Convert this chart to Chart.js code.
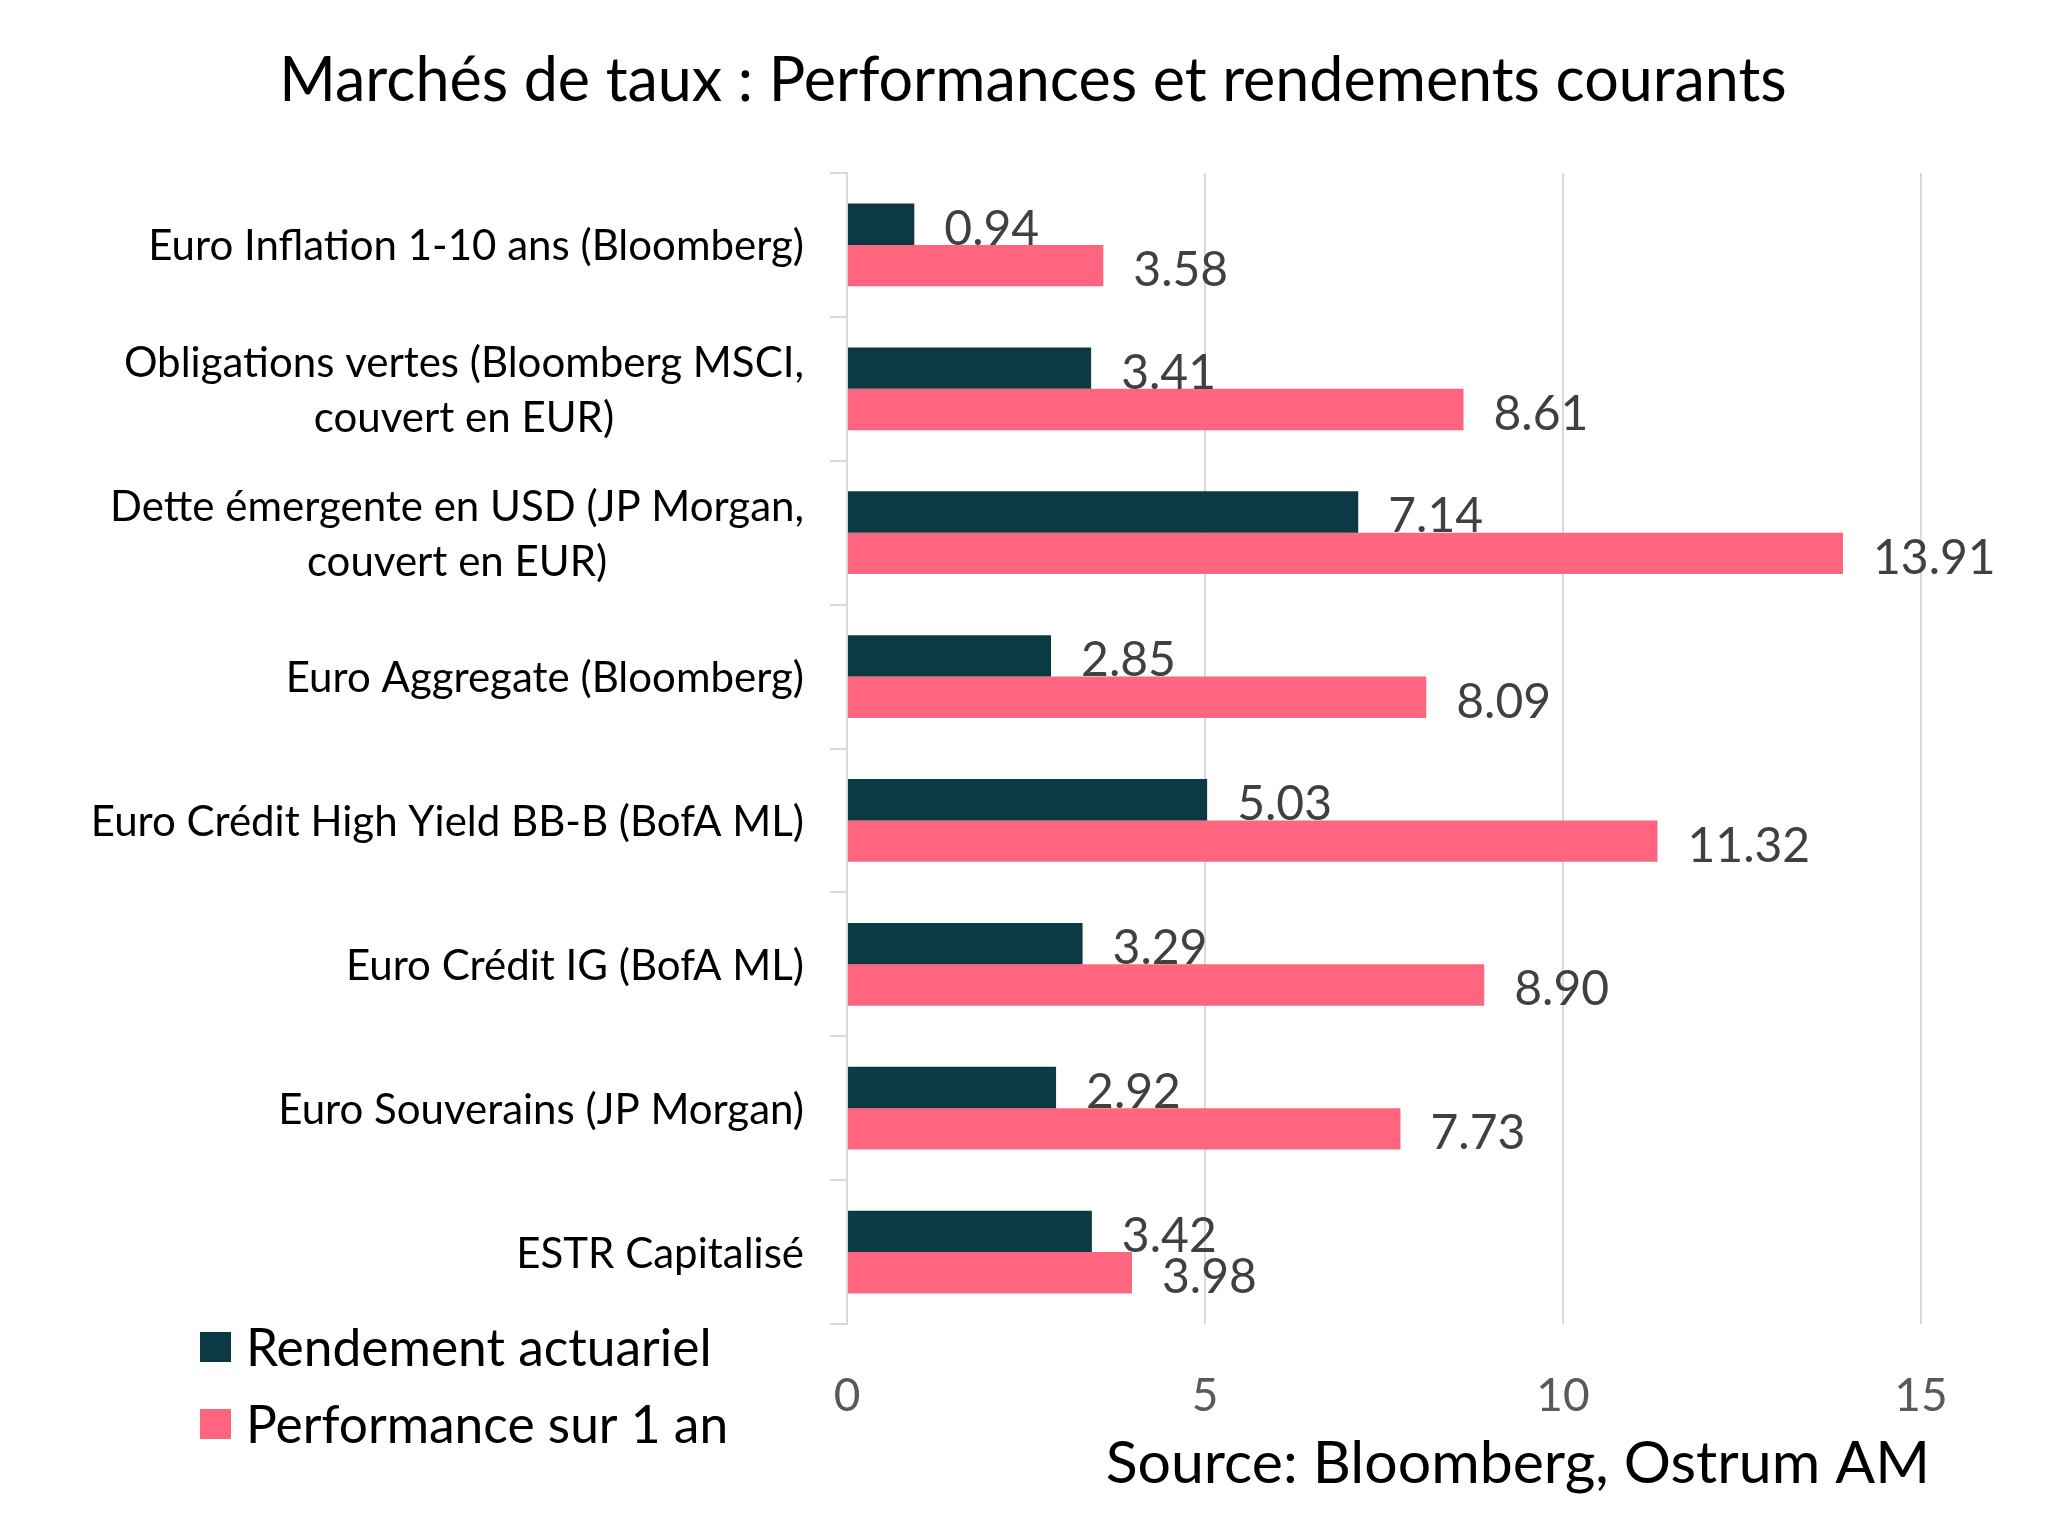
<!DOCTYPE html>
<html><head><meta charset="utf-8">
<script src="https://cdn.jsdelivr.net/npm/chart.js@4/dist/chart.umd.min.js"></script>
<style>html,body{margin:0;padding:0;background:#fff;} #wrap{position:relative;width:2066px;height:1515px;}</style>
</head><body><div id="wrap"><canvas id="c" width="2066" height="1515"></canvas></div>
<script>
const titleText = 'Marchés de taux : Performances et rendements courants';
const sourceText = 'Source: Bloomberg, Ostrum AM';
const categories = [
  'Euro Inflation 1-10 ans (Bloomberg)',
  ['Obligations vertes (Bloomberg MSCI,', 'couvert en EUR)'],
  ['Dette émergente en USD (JP Morgan,', 'couvert en EUR)'],
  'Euro Aggregate (Bloomberg)',
  'Euro Crédit High Yield BB-B (BofA ML)',
  'Euro Crédit IG (BofA ML)',
  'Euro Souverains (JP Morgan)',
  'ESTR Capitalisé'
];
const seriesNames = ['Rendement actuariel', 'Performance sur 1 an'];
const rendementActuariel = [0.94, 3.41, 7.14, 2.85, 5.03, 3.29, 2.92, 3.42];
const performance1an = [3.58, 8.61, 13.91, 8.09, 11.32, 8.90, 7.73, 3.98];
const xTickValues = [0, 5, 10, 15];
const seriesColors = ['#0b3a44', '#ff657e'];

const FONT = 'Lato';

const customText = {
  id: 'customText',
  afterDraw(chart) {
    const ctx = chart.ctx;
    const ys = chart.scales.y;
    ctx.save();
    // category labels: block right-aligned, lines centred within block
    ctx.font = '42px ' + FONT;
    ctx.fillStyle = '#000';
    ctx.textBaseline = 'middle';
    ctx.textAlign = 'center';
    const right = ys.right - 17 - 26;
    categories.forEach((lab, i) => {
      const lines = Array.isArray(lab) ? lab : [lab];
      const y = ys.getPixelForValue(i);
      const w = Math.max(...lines.map(l => ctx.measureText(l).width));
      const cx = right - w / 2;
      const lh = 55;
      lines.forEach((l, j) => {
        ctx.fillText(l, cx, y + (j - (lines.length - 1) / 2) * lh + 2);
      });
    });
    // legend
    ctx.font = '51.5px ' + FONT;
    ctx.textAlign = 'left';
    const legY = [1347, 1424];
    seriesNames.forEach((n, i) => {
      ctx.fillStyle = seriesColors[i];
      ctx.fillRect(200, legY[i] - 15, 31, 30);
      ctx.fillStyle = '#000';
      ctx.fillText(n, 246, legY[i] + 2);
    });
    // source
    ctx.font = '59px ' + FONT;
    ctx.textAlign = 'right';
    ctx.textBaseline = 'alphabetic';
    ctx.fillText(sourceText, 1930, 1483);
    ctx.restore();
  },
  afterDatasetsDraw(chart) {
    const ctx = chart.ctx;
    ctx.save();
    ctx.font = '48px ' + FONT;
    ctx.fillStyle = '#404040';
    ctx.textAlign = 'left';
    ctx.textBaseline = 'middle';
    chart.data.datasets.forEach((ds, di) => {
      const meta = chart.getDatasetMeta(di);
      meta.data.forEach((bar, i) => {
        ctx.fillText(ds.data[i].toFixed(2), bar.x + 30, bar.y + 5);
      });
    });
    ctx.restore();
  }
};

function draw() {
  Chart.defaults.font.family = FONT;
  new Chart(document.getElementById('c'), {
    type: 'bar',
    data: {
      labels: categories,
      datasets: [
        { label: seriesNames[0], data: rendementActuariel, backgroundColor: seriesColors[0], borderWidth: 0 },
        { label: seriesNames[1], data: performance1an, backgroundColor: seriesColors[1], borderWidth: 0 }
      ]
    },
    options: {
      indexAxis: 'y',
      responsive: false,
      animation: false,
      devicePixelRatio: 1,
      categoryPercentage: 0.575,
      barPercentage: 1,
      layout: { padding: { top: 0, left: 0, right: 0, bottom: 88 } },
      plugins: {
        legend: { display: false },
        tooltip: { enabled: false },
        title: {
          display: true, text: titleText, color: '#000',
          font: { family: FONT, size: 61, weight: 'normal' },
          padding: { top: 45, bottom: 54.8 }
        }
      },
      scales: {
        x: {
          min: 0, max: 15,
          afterBuildTicks(scale) { scale.ticks = xTickValues.map(v => ({ value: v })); },
          afterFit(scale) { scale.height = 103; scale.paddingLeft = 0; scale.paddingRight = 145; },
          ticks: { color: '#595959', font: { family: FONT, size: 46 }, padding: 45, maxRotation: 0 },
          grid: { color: '#d9d9d9', lineWidth: 2, drawTicks: false },
          border: { display: false }
        },
        y: {
          afterFit(scale) { scale.width = 847; scale.paddingTop = 0; scale.paddingBottom = 0; },
          ticks: { display: false },
          grid: { drawOnChartArea: false, drawTicks: true, tickLength: 17, color: '#d9d9d9', lineWidth: 2 },
          border: { display: true, color: '#d9d9d9', width: 2 }
        }
      }
    },
    plugins: [customText]
  });
}
(document.fonts ? Promise.all(['42px Lato', '61px Lato'].map(f => document.fonts.load(f))).catch(() => {}) : Promise.resolve()).then(draw);
</script>
</body></html>
